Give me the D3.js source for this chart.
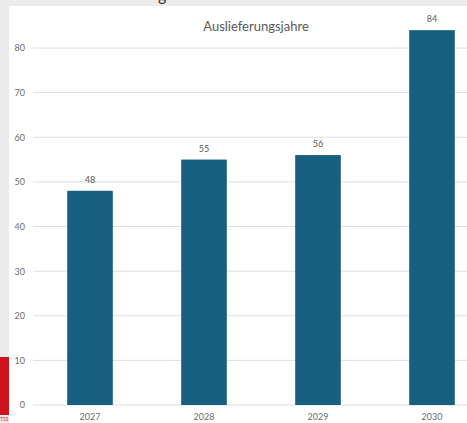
<!DOCTYPE html>
<html lang="de">
<head>
  <meta charset="UTF-8">
  <title>Auslieferungsjahre</title>
  <script src="https://d3js.org/d3.v7.min.js"></script>
  <style>
    body { margin: 0; background: #ebebeb; overflow: hidden; }
    svg { display: block; }
    .tick text { fill: #6b6b6b; font-family: Lato, sans-serif; font-size: 9px; }
  </style>
</head>
<body>
  <svg id="chart"></svg>
  <script>
    const years = ["2027", "2028", "2029", "2030"];
    const counts = [48, 55, 56, 84];
    const yTicks = [0, 10, 20, 30, 40, 50, 60, 70, 80];

    const width = 467, height = 423;
    const svg = d3.select("#chart").attr("width", width).attr("height", height);

    // white slide panel, grey frame on top and left
    svg.append("rect").attr("x", 9).attr("y", 6).attr("width", width - 9).attr("height", height - 6)
      .attr("fill", "#ffffff");
    svg.append("rect").attr("x", 0).attr("y", 357).attr("width", 9).attr("height", 58)
      .attr("fill", "#d0121b");
    svg.append("text").attr("x", 0).attr("y", 421)
      .attr("font-family", "Lato, sans-serif").attr("font-size", 5).attr("fill", "#d0121b")
      .text("TSS");
    svg.append("text").attr("x", 158).attr("y", 1)
      .attr("font-family", "Lato, sans-serif").attr("font-size", 16).attr("fill", "#333")
      .text("g");

    const x = d3.scaleBand().domain(years).range([33, 489]).paddingInner(0.6).paddingOuter(0.3);
    const y = d3.scaleLinear().domain([0, 80]).range([405, 48]);

    // gridlines
    svg.append("g").selectAll("line").data(yTicks).join("line")
      .attr("x1", 33).attr("x2", width)
      .attr("y1", d => y(d)).attr("y2", d => y(d))
      .attr("stroke", "#dedede").attr("stroke-width", 1);

    const yAxis = svg.append("g").attr("transform", "translate(25,0)")
      .call(d3.axisLeft(y).tickValues(yTicks).tickSize(0).tickPadding(0));
    yAxis.select(".domain").remove();

    svg.append("g").selectAll("rect").data(counts).join("rect")
      .attr("x", (d, i) => x(years[i]))
      .attr("y", d => y(d))
      .attr("width", x.bandwidth())
      .attr("height", d => y(0) - y(d))
      .attr("fill", "#175f80");

    svg.append("g").selectAll("text").data(counts).join("text")
      .attr("x", (d, i) => x(years[i]) + x.bandwidth() / 2)
      .attr("y", d => y(d) - 8)
      .attr("text-anchor", "middle")
      .attr("font-family", "Lato, sans-serif").attr("font-size", 9).attr("fill", "#595959")
      .text(d => d);

    const xAxis = svg.append("g").attr("transform", `translate(0,${y(0)})`)
      .call(d3.axisBottom(x).tickSize(0).tickPadding(9));
    xAxis.select(".domain").remove();

    svg.append("text").attr("x", 256).attr("y", 31)
      .attr("text-anchor", "middle")
      .attr("font-family", "Lato, sans-serif").attr("font-size", 13).attr("fill", "#595959")
      .text("Auslieferungsjahre");
  </script>
</body>
</html>
